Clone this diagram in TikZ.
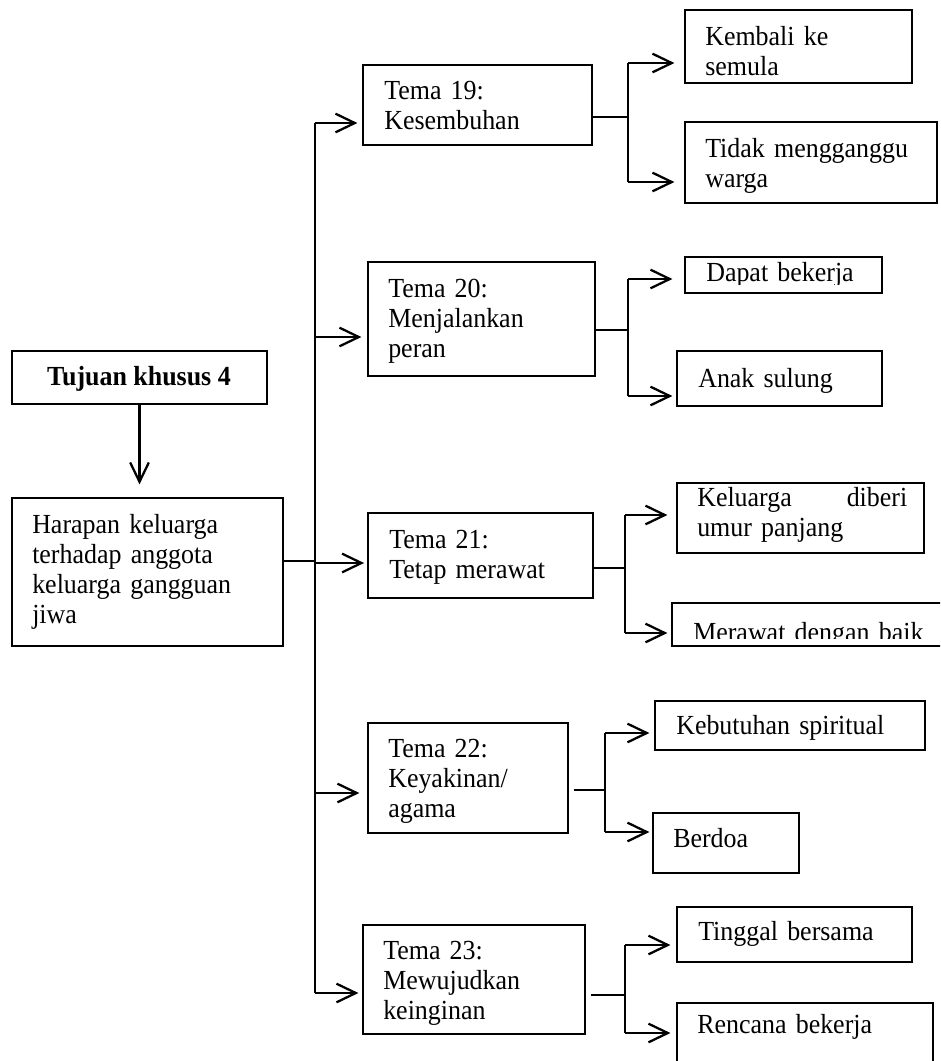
\documentclass[tikz,border=0pt]{standalone}
\usepackage{fontspec}
\setmainfont{Liberation Serif}[FakeStretch=0.94]
\usetikzlibrary{arrows.meta,fit}
\tikzset{
  box/.style={draw=black, line width=0.9pt, inner sep=0pt, rectangle},
  txt/.style={anchor=base west, inner sep=0pt, text width=250pt, align=left,
              font=\fontsize{20.7pt}{22.5pt}\selectfont},
  arr/.style={line width=1.7pt, -{Straight Barb[length=14.5pt,width=14pt]}},
  branch/.style={line width=1.7pt},
  link/.style={line width=1.1pt},
  spine/.style={line width=1.3pt}
}
\begin{document}
\begin{tikzpicture}[x=0.75pt,y=-0.75pt]
\useasboundingbox (0,0) rectangle (940,1061);
\clip (0,0) rectangle (940,1061);

% ---------- left column ----------
\node[box, fit={(12,351) (267,404)}] (tuj) {};
\node[anchor=base, inner sep=0pt, font=\fontsize{20.7pt}{22.5pt}\selectfont\bfseries] (tujT) at (139,385) {Tujuan khusus 4};
\node[box, fit={(12,498) (283,646)}] (har) {};
\node[txt] (harT) at (32,533) {Harapan keluarga\\terhadap anggota\\keluarga gangguan\\jiwa};

% ---------- themes ----------
\node[box, fit={(363,65) (592,145)}] (t19) {};
\node[txt] (t19T) at (384,99) {Tema 19:\\Kesembuhan};
\node[box, fit={(368,262) (595,376)}] (t20) {};
\node[txt] (t20T) at (388,297) {Tema 20:\\Menjalankan\\peran};
\node[box, fit={(368,513) (593,598)}] (t21) {};
\node[txt] (t21T) at (389,548) {Tema 21:\\Tetap merawat};
\node[box, fit={(368,723) (568,833)}] (t22) {};
\node[txt] (t22T) at (388,757) {Tema 22:\\Keyakinan/\\agama};
\node[box, fit={(363,925) (585,1034)}] (t23) {};
\node[txt] (t23T) at (383,959) {Tema 23:\\Mewujudkan\\keinginan};

% ---------- leaves ----------
\node[box, fit={(685,10) (912,83)}] (k1) {};
\node[txt] (k1T) at (705,45) {Kembali ke\\semula};
\node[box, fit={(685,122) (937,203)}] (k2) {};
\node[txt] (k2T) at (705,157) {Tidak mengganggu\\warga};

\node[box, fit={(685,257) (882,293)}] (d1) {};
\begin{scope}
  \clip (685,250) rectangle (882,284);
  \node[txt] (d1T) at (706,281) {Dapat bekerja};
\end{scope}
\node[box, fit={(677,351) (882,406)}] (d2) {};
\node[txt] (d2T) at (698,387) {Anak sulung};

\node[box, fit={(677,483) (924,553)}] (e1) {};
\node[txt] (e1T) at (697,506) {\hbox to 157.5pt{Keluarga\hfill diberi}\\umur panjang};
\node[box, fit={(672,603) (948,646)}] (e2) {};
\begin{scope}
  \clip (672,600) rectangle (948,638);
  \node[txt] (e2T) at (693,641) {Merawat dengan baik};
\end{scope}

\node[box, fit={(655,701) (925,750)}] (f1) {};
\node[txt] (f1T) at (676,734) {Kebutuhan spiritual};
\node[box, fit={(653,813) (799,873)}] (f2) {};
\node[txt] (f2T) at (673,847) {Berdoa};

\node[box, fit={(677,907) (912,962)}] (g1) {};
\node[txt] (g1T) at (698,940) {Tinggal bersama};
\node[box, fit={(677,1003) (933,1075)}] (g2) {};
\node[txt] (g2T) at (697,1033) {Rencana bekerja};

% ---------- connectors: left ----------
\draw[arr, shorten >=9.75pt] (tuj.south) -- (tuj.south |- har.north);
\coordinate (hj) at (315,561);
\draw[link] (hj -| har.east) -- (hj);

\coordinate (s19) at (315,123);
\coordinate (s20) at (315,337);
\coordinate (s21) at (315,563);
\coordinate (s22) at (315,793);
\coordinate (s23) at (315,993);
\draw[spine] (s19) -- (s23);
\draw[arr, shorten >=3.75pt] (s19) -- (s19 -| t19.west);
\draw[arr, shorten >=4.5pt] (s20) -- (s20 -| t20.west);
\draw[arr, shorten >=2.5pt] (s21) -- (s21 -| t21.west);
\draw[arr, shorten >=6pt] (s22) -- (s22 -| t22.west);
\draw[arr, shorten >=3pt] (s23) -- (s23 -| t23.west);

% ---------- branches ----------
\coordinate (b19) at (628,117);
\coordinate (b19a) at (628,63);
\coordinate (b19b) at (628,182);
\draw[link] (b19 -| t19.east) -- (b19);
\draw[branch] (b19a) -- (b19b);
\draw[arr, shorten >=7.5pt] (b19a) -- (b19a -| k1.west);
\draw[arr, shorten >=7.5pt] (b19b) -- (b19b -| k2.west);

\coordinate (b20) at (628,330);
\coordinate (b20a) at (628,279);
\coordinate (b20b) at (628,396);
\draw[link] (b20 -| t20.east) -- (b20);
\draw[branch] (b20a) -- (b20b);
\draw[arr, shorten >=9pt] (b20a) -- (b20a -| d1.west);
\draw[arr, shorten >=3pt] (b20b) -- (b20b -| d2.west);

\coordinate (b21) at (625,568);
\coordinate (b21a) at (625,515);
\coordinate (b21b) at (625,633);
\draw[link] (b21 -| t21.east) -- (b21);
\draw[branch] (b21a) -- (b21b);
\draw[arr, shorten >=6.75pt] (b21a) -- (b21a -| e1.west);
\draw[arr, shorten >=3pt] (b21b) -- (b21b -| e2.west);

\coordinate (b22) at (605,790);
\coordinate (b22a) at (605,733);
\coordinate (b22b) at (605,832);
\draw[link] ([xshift=3.75pt]b22 -| t22.east) -- (b22);
\draw[branch] (b22a) -- (b22b);
\draw[arr, shorten >=3.75pt] (b22a) -- (b22a -| f1.west);
\draw[arr, shorten >=2.25pt] (b22b) -- (b22b -| f2.west);

\coordinate (b23) at (625,995);
\coordinate (b23a) at (625,945);
\coordinate (b23b) at (625,1033);
\draw[link] ([xshift=3.75pt]b23 -| t23.east) -- (b23);
\draw[branch] (b23a) -- (b23b);
\draw[arr, shorten >=4.5pt] (b23a) -- (b23a -| g1.west);
\draw[arr, shorten >=4.5pt] (b23b) -- (b23b -| g2.west);
\end{tikzpicture}
\end{document}
